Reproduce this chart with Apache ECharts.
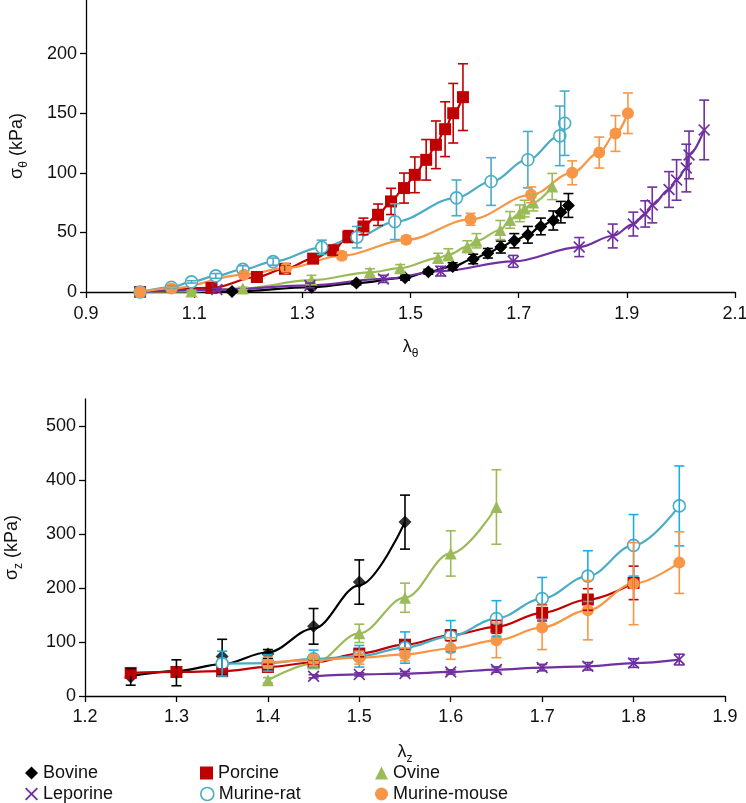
<!DOCTYPE html>
<html>
<head>
<meta charset="utf-8">
<script src="https://cdn.jsdelivr.net/npm/echarts@6/dist/echarts.min.js"></script>
<style>
html,body{margin:0;padding:0;background:#fff;}
#chart{width:746px;height:803px;}
</style>
</head>
<body>
<div id="chart"></div>
<script>
// ---------- DATA: [lambda, stress (kPa), error (kPa)] ----------
// Top panel: circumferential stretch vs circumferential stress
const bovineTheta = [[1.0,0,0],[1.17,0.5,1],[1.317,4,1],[1.40,7.5,1.5],[1.49,12,2],[1.533,17,2],[1.578,21.5,3],[1.616,27.7,4],[1.643,32.5,4],[1.667,37.7,5],[1.692,43,6],[1.717,48,7],[1.741,55,7],[1.764,60,8],[1.778,67,9],[1.792,72.6,10]];
const porcineTheta = [[1.0,0,0],[1.132,3.4,1],[1.216,12.6,2],[1.268,19.5,3],[1.32,28,3],[1.357,35,4],[1.385,46.5,5],[1.413,55,7],[1.44,64.8,9],[1.464,76,11],[1.488,87.2,12.6],[1.508,98.3,15],[1.529,110.9,17],[1.547,123.5,20],[1.564,136.6,23],[1.579,150,25],[1.597,163.5,28]];
const ovineTheta = [[1.0,0,0],[1.095,0.5,1],[1.19,3,1],[1.317,10,4],[1.425,16.5,3],[1.481,20,3],[1.551,28.5,4],[1.570,31.3,5],[1.605,38,5],[1.622,43,6],[1.666,52,8],[1.684,60.5,7],[1.702,66,7],[1.711,70,7],[1.727,75,7],[1.762,88.5,11]];
const leporineTheta = [[1.0,0,0],[1.142,2,1],[1.314,5.5,2],[1.45,11,3],[1.556,17.5,4],[1.690,25.7,5],[1.812,37.7,8],[1.874,47,10],[1.912,57,10],[1.934,65.5,11],[1.947,73,15],[1.978,86,15],[1.992,94,17],[2.010,104,20],[2.015,115,20],[2.043,136,25]];
const ratTheta = [[1.0,0,0],[1.058,4,1],[1.095,8.5,1],[1.14,13.5,2],[1.19,19,3],[1.246,25.5,3],[1.336,37.5,6],[1.401,46,9],[1.471,59,15],[1.585,79,15],[1.649,92.7,20],[1.717,111,23.7],[1.776,131,25],[1.785,141.6,27]];
const mouseTheta = [[1.0,0,0],[1.058,3,1],[1.192,14.5,2],[1.27,20,3],[1.373,30.4,3],[1.492,43.8,3],[1.611,61,5],[1.723,81.5,6.6],[1.799,100,10],[1.849,117,13],[1.879,133,15],[1.902,150,17]];

// Bottom panel: axial stretch vs axial stress
const bovineZ = [[1.25,35,15],[1.30,43,24],[1.35,73,32],[1.40,78,8],[1.45,129,33],[1.50,211,41],[1.55,322,50]];
const bovineZFit = [[1.25,37],[1.30,46],[1.35,59],[1.40,81],[1.45,125],[1.50,205],[1.55,322]];
const porcineZ = [[1.25,42.7,5],[1.30,44.5,5],[1.35,46,4],[1.40,53.8,5],[1.45,62,5],[1.50,78.6,6],[1.55,95,8],[1.60,112.5,10],[1.65,128,12],[1.70,154,15],[1.75,178.7,20],[1.80,209.5,31]];
const ovineZ = [[1.40,29,5],[1.45,60,8],[1.50,116,17],[1.55,182,27],[1.60,264,42],[1.65,350,69]];
const leporineZ = [[1.45,36.5,3],[1.50,40,3],[1.55,41.5,4],[1.60,44.5,4],[1.65,49,5],[1.70,52.6,6],[1.75,55,7],[1.80,61,8],[1.85,67.5,10]];
const ratZ = [[1.35,60,23],[1.40,61,15],[1.45,69,16],[1.50,73.6,20],[1.55,89.7,29],[1.60,110.7,29],[1.65,143.5,33],[1.70,180.5,39],[1.75,222,47],[1.80,279,57],[1.85,352,74]];
const mouseZ = [[1.40,62,10],[1.45,66,10],[1.50,71,12],[1.55,77,12],[1.60,88,20],[1.65,103,32],[1.70,127,41],[1.75,159,55],[1.80,208,76],[1.85,247,57]];

// Tick labels
const topXTicks = [0.9,1.1,1.3,1.5,1.7,1.9,2.1];
const topYTicks = [0,50,100,150,200];
const botXTicks = [1.2,1.3,1.4,1.5,1.6,1.7,1.8,1.9];
const botYTicks = [0,100,200,300,400,500];
const seriesNames = ['Bovine','Porcine','Ovine','Leporine','Murine-rat','Murine-mouse'];

// ---------- STYLE ----------
const FONT = "'Liberation Sans',Arial,sans-serif";
const TXT = '#111';
const X_PATH = 'path://M0,1L1,0L5,4L9,0L10,1L6,5L10,9L9,10L5,6L1,10L0,9L4,5Z';
const styles = {
  'Bovine':       {color:'#000000', symbol:'diamond',  size:13, bar:'#000000', fill:'#000000'},
  'Porcine':      {color:'#C00000', symbol:'rect',     size:12, bar:'#C00000', fill:'#C00000'},
  'Ovine':        {color:'#9BBB59', symbol:'triangle', size:12, bar:'#9BBB59', fill:'#9BBB59'},
  'Leporine':     {color:'#7030A0', symbol:X_PATH,     size:12, bar:'#7030A0', fill:'#7030A0'},
  'Murine-rat':   {color:'#4BACC6', symbol:'circle',   size:12, bar:'#4BACC6', fill:'#ffffff'},
  'Murine-mouse': {color:'#F79646', symbol:'circle',   size:12, bar:'#F79646', fill:'#F79646'}
};

function errRender(color){
  return function(params, api){
    const x = api.value(0), y = api.value(1), e = api.value(2);
    if (!e) return null;
    const t = api.coord([x, y + e]), b = api.coord([x, y - e]);
    const w = 5;
    const st = {stroke: color, lineWidth: 1.6};
    return {type:'group', children:[
      {type:'line', shape:{x1:t[0],y1:t[1],x2:b[0],y2:b[1]}, style:st},
      {type:'line', shape:{x1:t[0]-w,y1:t[1],x2:t[0]+w,y2:t[1]}, style:st},
      {type:'line', shape:{x1:b[0]-w,y1:b[1],x2:b[0]+w,y2:b[1]}, style:st}
    ]};
  };
}

function makeSeries(name, data, axisIdx, barColor, fit){
  const s = styles[name];
  const itemStyle = {color: s.fill, borderColor: s.color, borderWidth: name === 'Murine-rat' ? 1.6 : 0};
  const out = [];
  if (fit) {
    out.push({
      name: name, type:'line', xAxisIndex:axisIdx, yAxisIndex:axisIdx,
      data: fit, smooth: 0.35, smoothMonotone:'x', symbol:'none',
      lineStyle: {color: s.color, width: 2.2}, itemStyle: itemStyle, z: 2, animation:false
    });
    out.push({
      name: name, type:'scatter', xAxisIndex:axisIdx, yAxisIndex:axisIdx,
      data: data.map(d => [d[0], d[1]]),
      symbol: s.symbol, symbolSize: s.size, itemStyle: itemStyle, z: 3, animation:false
    });
  } else {
    out.push({
      name: name, type:'line', xAxisIndex:axisIdx, yAxisIndex:axisIdx,
      data: data.map(d => [d[0], d[1]]),
      smooth: 0.35, smoothMonotone:'x', showAllSymbol: true,
      symbol: s.symbol, symbolSize: s.size,
      lineStyle: {color: s.color, width: 2.2},
      itemStyle: itemStyle, z: 3, animation: false
    });
  }
  out.push({
    name: name + ' err', type:'custom', xAxisIndex:axisIdx, yAxisIndex:axisIdx,
    data: data, encode: {x:0, y:1},
    renderItem: errRender(barColor || s.bar), z: 4, animation:false, silent:true
  });
  return out;
}

const series = [].concat(
  makeSeries('Bovine', bovineTheta, 0),
  makeSeries('Porcine', porcineTheta, 0),
  makeSeries('Ovine', ovineTheta, 0),
  makeSeries('Leporine', leporineTheta, 0),
  makeSeries('Murine-rat', ratTheta, 0),
  makeSeries('Murine-mouse', mouseTheta, 0),
  makeSeries('Bovine', bovineZ, 1, null, bovineZFit),
  makeSeries('Porcine', porcineZ, 1),
  makeSeries('Ovine', ovineZ, 1),
  makeSeries('Leporine', leporineZ, 1),
  makeSeries('Murine-rat', ratZ, 1, '#1EAEE6'),
  makeSeries('Murine-mouse', mouseZ, 1)
);

const axisLine = {show:true, onZero:false, lineStyle:{color:'#000', width:1.3}};
const axisTickX = {show:true, inside:false, length:6, lineStyle:{color:'#000', width:1.3}};
const labelStyle = {color: TXT, fontFamily: FONT, fontSize: 18};
const subRich = {
  a: {fontFamily: FONT, fontSize: 18, color: TXT, lineHeight: 26, verticalAlign:'middle'},
  b: {fontFamily: FONT, fontSize: 12, color: TXT, lineHeight: 22, verticalAlign:'bottom'}
};

function legendItem(name){
  const s = styles[name];
  return {name: name, icon: s.symbol,
          itemStyle: {color: s.fill, borderColor: s.color, borderWidth: name === 'Murine-rat' ? 1.6 : 0}};
}
const legendPos = [[20,759],[195,759],[370,759],[20,780],[195,780],[370,780]];
const legends = seriesNames.map((n, i) => ({
  left: legendPos[i][0], top: legendPos[i][1], itemWidth: 13, itemHeight: 13, itemGap: 0,
  selectedMode: false,
  textStyle: {fontFamily: FONT, fontSize: 18, color: TXT},
  data: [legendItem(n)]
}));

const option = {
  backgroundColor: '#fff',
  animation: false,
  legend: legends,
  grid: [
    {left: 86, top: 0, width: 649, height: 292, containLabel:false, outerBoundsMode:'none'},
    {left: 85, top: 399, width: 640, height: 297, containLabel:false, outerBoundsMode:'none'}
  ],
  xAxis: [
    {type:'value', gridIndex:0, min:0.9, max:2.1, splitLine:{show:false},
     axisLine: axisLine, axisTick: Object.assign({customValues: topXTicks}, axisTickX),
     axisLabel: Object.assign({customValues: topXTicks, margin: 13}, labelStyle),
     name: '{a|λ}{b|θ}', nameLocation:'middle', nameGap: 42,
     nameTextStyle: {rich: subRich}},
    {type:'value', gridIndex:1, min:1.2, max:1.9, splitLine:{show:false},
     axisLine: axisLine, axisTick: Object.assign({customValues: botXTicks}, axisTickX),
     axisLabel: Object.assign({customValues: botXTicks, margin: 12}, labelStyle),
     name: '{a|λ}{b|z}', nameLocation:'middle', nameGap: 43,
     nameTextStyle: {rich: subRich}}
  ],
  yAxis: [
    {type:'value', gridIndex:0, min:0, max:245, splitLine:{show:false},
     axisLine: axisLine, axisTick: Object.assign({customValues: topYTicks}, axisTickX),
     axisLabel: Object.assign({customValues: topYTicks, margin: 9}, labelStyle),
     name: '{a|σ}{b|θ}{a| (kPa)}', nameLocation:'middle', nameGap: 56, nameRotate: 90,
     nameTextStyle: {rich: subRich}},
    {type:'value', gridIndex:1, min:0, max:550, splitLine:{show:false},
     axisLine: axisLine, axisTick: Object.assign({customValues: botYTicks}, axisTickX),
     axisLabel: Object.assign({customValues: botYTicks, margin: 9}, labelStyle),
     name: '{a|σ}{b|z}{a| (kPa)}', nameLocation:'middle', nameGap: 60, nameRotate: 90,
     nameTextStyle: {rich: subRich}}
  ],
  series: series
};

const chart = echarts.init(document.getElementById('chart'), null, {renderer:'canvas'});
chart.setOption(option);
</script>
</body>
</html>
